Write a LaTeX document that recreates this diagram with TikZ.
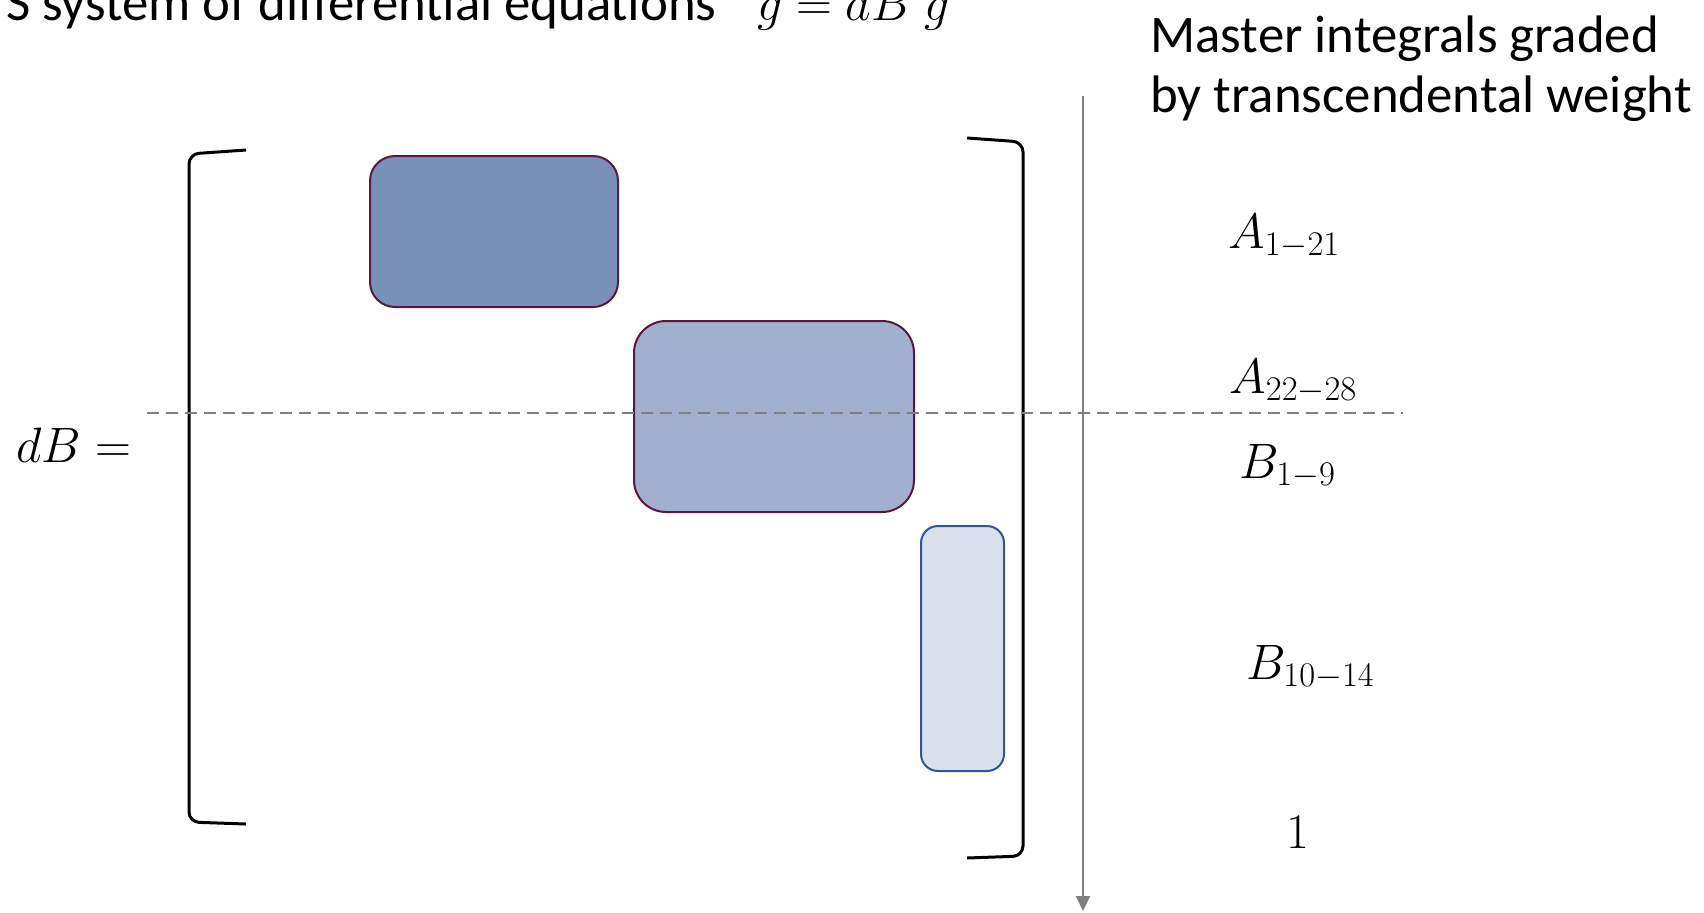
\documentclass[tikz,border=0pt]{standalone}
\usepackage[no-math]{fontspec}
\setmainfont{Carlito}
\usetikzlibrary{arrows.meta}
\newcommand{\subsz}[1]{\mbox{\fontsize{26}{28}\selectfont$\scriptstyle #1$}}
\definecolor{fillA}{HTML}{7991B9}
\definecolor{fillB}{HTML}{A2AFCE}
\definecolor{fillC}{HTML}{D9DFEB}
\definecolor{edgeM}{HTML}{5A193C}
\definecolor{edgeB}{HTML}{2F5597}
\definecolor{guide}{HTML}{7F7F7F}
\tikzset{
  txt/.style={inner sep=0pt, font=\fontsize{26.4}{30}\selectfont},
  mth/.style={inner sep=0pt, font=\fontsize{23.5}{28}\selectfont},
  blk/.style={draw, inner sep=0pt, line width=1pt},
  bracketline/.style={draw=black, line width=1.5pt, rounded corners=5pt},
  divider/.style={draw=guide, line width=0.75pt, dash pattern=on 6pt off 3.5pt},
  weightarrow/.style={draw=guide, line width=1pt, -{Triangle[width=7pt,length=7.5pt]}}
}
\begin{document}
\begin{tikzpicture}[x=0.5pt,y=-0.5pt]
\clip (0,0) rectangle (1704,912);
\useasboundingbox (0,0) rectangle (1704,912);
% title
\node[txt, anchor=base east] (title) at (717,20) {S system of differential equations};
\node[txt, anchor=base west] (titleeq) at (757,20) {$g = dB\;g$};
\node[txt, anchor=base west, align=left] (master) at (1150,112) {Master integrals graded\\by transcendental weight};
% blocks
\node[blk, draw=edgeM, fill=fillA, rounded corners=12.5pt, minimum width=124pt, minimum height=75.5pt] (wA) at (494,231.5) {};
\node[blk, draw=edgeM, fill=fillB, rounded corners=16pt, minimum width=140pt, minimum height=95.5pt] (wB) at (774,416.5) {};
\node[blk, draw=edgeB, fill=fillC, rounded corners=8.5pt, minimum width=41.5pt, minimum height=122.5pt] (wC) at (962.5,648.5) {};
% brackets
\draw[bracketline] (246,150) -- (189,154) -- (189,822) -- (246,824);
\draw[bracketline] (967,138) -- (1023,142) -- (1023,856) -- (967,858);
% divider and weight axis
\coordinate (dl) at (147,413);
\coordinate (dr) at (1403,413);
\draw[divider] (dl) -- (dr);
\coordinate (wtop) at (1083,96);
\coordinate (wbot) at (1083,911);
\draw[weightarrow] (wtop) -- (wbot);
% labels
\node[mth, anchor=base west] (dB) at (16,462) {$dB =$};
\node[mth, anchor=base west] (A1) at (1228,248) {$A_{\subsz{1-21}}$};
\node[mth, anchor=base west] (A2) at (1229,393) {$A_{\subsz{22-28}}$};
\node[mth, anchor=base west] (B1) at (1239,478) {$B_{\subsz{1-9}}$};
\node[mth, anchor=base west] (B2) at (1246,679) {$B_{\subsz{10-14}}$};
\node[mth, anchor=base west] (one) at (1286,848) {$1$};
\end{tikzpicture}
\end{document}
